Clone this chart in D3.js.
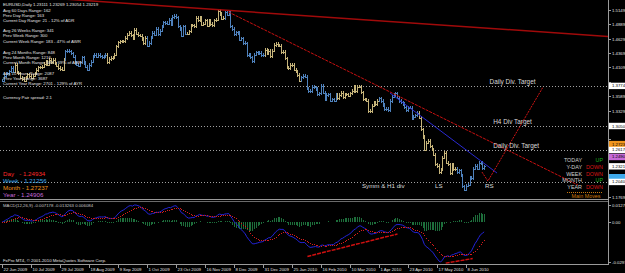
<!DOCTYPE html>
<html>
<head>
<meta charset="utf-8">
<title>EURUSD,Daily</title>
<script src="https://cdn.jsdelivr.net/npm/d3@7"></script>
<style>
  html, body { margin: 0; padding: 0; background: #000; overflow: hidden; }
  svg { display: block; font-family: "Liberation Sans", Arial, sans-serif; }
</style>
</head>
<body>
<svg id="chart" width="625" height="273"></svg>
<script>
// daily closes, one value per bar (22 Jun 2009 .. 22 Jun 2010)
var closes = [
  1.3870, 1.3950, 1.4000, 1.4000, 1.4040, 1.4100, 1.4030, 1.4150, 1.4010, 1.4000, 1.3920, 1.3900, 1.3870, 1.3920, 1.3980, 1.3950,
  1.3920, 1.3960, 1.4000, 1.4060, 1.4110, 1.4110, 1.4120, 1.4170, 1.4220, 1.4160, 1.4240, 1.4200, 1.4240, 1.4180, 1.4140, 1.4100,
  1.4080, 1.4070, 1.4250, 1.4400, 1.4410, 1.4400, 1.4360, 1.4300, 1.4190, 1.4160, 1.4140, 1.4200, 1.4290, 1.4190, 1.4120, 1.4070,
  1.4150, 1.4210, 1.4310, 1.4330, 1.4300, 1.4330, 1.4310, 1.4290, 1.4300, 1.4340, 1.4200, 1.4260, 1.4280, 1.4290, 1.4340, 1.4490,
  1.4560, 1.4580, 1.4570, 1.4580, 1.4640, 1.4700, 1.4730, 1.4690, 1.4630, 1.4790, 1.4720, 1.4690, 1.4680, 1.4620, 1.4540, 1.4640,
  1.4500, 1.4550, 1.4650, 1.4730, 1.4700, 1.4800, 1.4710, 1.4770, 1.4850, 1.4920, 1.4910, 1.4900, 1.4970, 1.4890, 1.5020, 1.5040,
  1.5010, 1.4850, 1.4800, 1.4680, 1.4850, 1.4720, 1.4720, 1.4760, 1.4860, 1.4870, 1.4850, 1.5000, 1.4960, 1.5010, 1.4880, 1.4900,
  1.4960, 1.4860, 1.4950, 1.4890, 1.4870, 1.4960, 1.4970, 1.5130, 1.5070, 1.4990, 1.5000, 1.5100, 1.5060, 1.5100, 1.4850, 1.4800,
  1.4710, 1.4740, 1.4730, 1.4610, 1.4630, 1.4550, 1.4540, 1.4330, 1.4340, 1.4290, 1.4220, 1.4340, 1.4380, 1.4370, 1.4370, 1.4330,
  1.4330, 1.4420, 1.4370, 1.4410, 1.4310, 1.4410, 1.4510, 1.4530, 1.4500, 1.4500, 1.4380, 1.4390, 1.4270, 1.4110, 1.4090, 1.4150,
  1.4150, 1.4070, 1.4030, 1.3970, 1.3870, 1.3930, 1.3960, 1.3940, 1.3730, 1.3680, 1.3680, 1.3760, 1.3750, 1.3720, 1.3630, 1.3640,
  1.3770, 1.3650, 1.3530, 1.3610, 1.3620, 1.3510, 1.3530, 1.3510, 1.3620, 1.3550, 1.3610, 1.3650, 1.3570, 1.3620, 1.3620, 1.3600,
  1.3640, 1.3680, 1.3760, 1.3680, 1.3760, 1.3760, 1.3660, 1.3530, 1.3530, 1.3510, 1.3320, 1.3320, 1.3420, 1.3480, 1.3440, 1.3510,
  1.3550, 1.3500, 1.3430, 1.3350, 1.3360, 1.3340, 1.3500, 1.3580, 1.3610, 1.3640, 1.3560, 1.3500, 1.3480, 1.3450, 1.3390, 1.3330,
  1.3380, 1.3380, 1.3180, 1.3220, 1.3240, 1.3290, 1.3200, 1.2990, 1.2850, 1.2620, 1.2750, 1.2780, 1.2680, 1.2630, 1.2530, 1.2360,
  1.2330, 1.2220, 1.2260, 1.2480, 1.2570, 1.2390, 1.2360, 1.2200, 1.2360, 1.2270, 1.2280, 1.2220, 1.2250, 1.2160, 1.1960, 1.1900,
  1.1970, 1.1990, 1.2110, 1.2110, 1.2280, 1.2330, 1.2280, 1.2380, 1.2390, 1.2290, 1.23219
];

// first bar of each month and its month number (bars alternate colour by month)
var monthStartIndex = [0, 7, 35, 58, 80, 102, 123, 145, 165, 185, 208, 230, 251];
var monthNumber = [6, 7, 8, 9, 10, 11, 12, 1, 2, 3, 4, 5, 6];

var dateTickIndex = [0, 16, 32, 48, 64, 80, 96, 112, 128, 144, 160, 176, 192, 208, 224, 240, 256];
var dateTickLabels = ["22 Jun 2009", "10 Jul 2009", "29 Jul 2009", "18 Aug 2009", "9 Sep 2009", "1 Oct 2009",
  "23 Oct 2009", "16 Nov 2009", "8 Dec 2009", "31 Dec 2009", "25 Jan 2010", "16 Feb 2010", "10 Mar 2010",
  "1 Apr 2010", "23 Apr 2010", "17 May 2010", "8 Jun 2010"];

var priceTicks = [1.51490, 1.48890, 1.46290, 1.43690, 1.41090, 1.38490, 1.35890, 1.33290,
  1.30690, 1.28090, 1.25490, 1.22890, 1.20290, 1.17690];

// dotted target levels
var levelPrices = [1.37740, 1.30500, 1.26170, 1.20400];
var levelNames = ["Daily Div. Target", "H4 Div Target", "Daily Div. Target", ""];
var levelLabelIndex = [269, 271, 271, 0];

// period opens
var periodNames = ["Day   - ", "Week - ", "Month - ", "Year - "];
var periodPrices = [1.24934, 1.21256, 1.27237, 1.24906];
var periodColors = ["#ff2a2a", "#3fa9ea", "#f0961e", "#c66ad8"];

var lastBar = [1.23111, 1.23269, 1.23054, 1.23219];

var moveNames = ["TODAY", "Y-DAY", "WEEK", "MONTH", "YEAR"];
var moveDirs = ["UP", "DOWN", "DOWN", "UP", "DOWN"];

var infoLines = [
  ["Avg 60 Days Range: 162", "Prev Day Range: 163", "Current Day Range: 21 - 12% of ADR"],
  ["Avg 26 Weeks Range: 341", "Prev Week Range: 300", "Current Week Range: 183 - 47% of AWR"],
  ["Avg 24 Months Range: 848", "Prev Month Range: 1216", "Current Month Range: 582 - 69% of AMR"],
  ["Avg 10 Years Range: 2087", "Prev Year Range: 3687", "Current Year Range: 2701 - 129% of AYR"]
];

// trend lines, [bar index, price]
var trendLong = [[81.7, 1.5235], [334.3, 1.4666]];
var trendTop = [[125, 1.5108], [317.8, 1.1984]];
var trendBlue = [[214.1, 1.3645], [273.1, 1.2201]];
var projection = [[264.8, 1.2219], [268.1, 1.2056], [298.5, 1.3754]];
var notes = [["Symm & H1 div", 198.6, 1.1935], ["LS", 238.9, 1.1935], ["RS", 266.5, 1.1935]];

// macd divergence lines, [bar index, value]
var macdDiv1 = [[168.5, -0.0255], [218.2, -0.0088]];
var macdDiv2 = [[244.8, -0.0305], [259.7, -0.0271]];

var W = 625, H = 273, axisX = 608, mainBottom = 199, macdTop = 205, macdBottom = 262;
var small = 4.3;

var svg = d3.select("#chart");

var x = d3.scaleLinear().domain([0, 16]).range([2, 31]);
var y = d3.scaleLinear().domain([1.1732, 1.5325]).range([mainBottom, 0]);

function px(v) { return Math.round(v) + 0.5; }

var defs = svg.append("defs");
defs.append("clipPath").attr("id", "clipMain").append("rect")
  .attr("x", 0).attr("y", 0).attr("width", axisX).attr("height", mainBottom);
defs.append("clipPath").attr("id", "clipMacd").append("rect")
  .attr("x", 0).attr("y", 202).attr("width", axisX).attr("height", 62);

svg.append("rect").attr("width", W).attr("height", H).attr("fill", "#000");

var main = svg.append("g").attr("clip-path", "url(#clipMain)");

// levels
main.selectAll("line.level")
  .data(levelPrices)
  .enter().append("line")
    .attr("class", "level")
    .attr("x1", 0).attr("x2", axisX)
    .attr("y1", function(d) { return px(y(d)); })
    .attr("y2", function(d) { return px(y(d)); })
    .attr("stroke", "#a0a0a0")
    .attr("stroke-dasharray", "1,2");

// bars
var wick = 0.003;
function monthOf(i) {
  var m = monthNumber[0];
  monthStartIndex.forEach(function(s, k) { if (i >= s) m = monthNumber[k]; });
  return m;
}
var bars = closes.map(function(c, i) {
  var o = i ? closes[i - 1] : c;
  return { i: i, o: o, c: c, h: Math.max(o, c) + wick, l: Math.min(o, c) - wick, m: monthOf(i) };
});

main.append("g")
  .attr("shape-rendering", "crispEdges")
  .selectAll("path")
  .data(bars)
  .enter().append("path")
    .attr("d", function(d) {
      var bx = px(x(d.i));
      return "M" + bx + "," + y(d.h) + "V" + y(d.l) +
        "M" + (bx - 1) + "," + px(y(d.o)) + "H" + bx +
        "M" + bx + "," + px(y(d.c)) + "H" + (bx + 1);
    })
    .attr("stroke", function(d) { return d.m % 2 ? "#c6b47a" : "#4f82bd"; })
    .attr("stroke-width", 1)
    .attr("fill", "none");

// trend lines
var line = d3.line()
  .x(function(d) { return x(d[0]); })
  .y(function(d) { return y(d[1]); });

function extend(seg, i0, i1) {
  var k = (seg[1][1] - seg[0][1]) / (seg[1][0] - seg[0][0]);
  return [[i0, seg[0][1] + k * (i0 - seg[0][0])], [i1, seg[0][1] + k * (i1 - seg[0][0])]];
}

main.append("path")
  .attr("d", line(extend(trendLong, 0, 340)))
  .attr("stroke", "#a00a0a").attr("stroke-width", 1.5).attr("fill", "none");

main.append("path")
  .attr("d", line(trendTop))
  .attr("stroke", "#c81010").attr("stroke-width", 1).attr("stroke-dasharray", "3,1").attr("fill", "none");

main.append("path")
  .attr("d", line(trendBlue))
  .attr("stroke", "#2a2ad2").attr("stroke-width", 1).attr("fill", "none");

main.append("path")
  .attr("d", line(projection))
  .attr("stroke", "#d01414").attr("stroke-width", 1).attr("stroke-dasharray", "2,1").attr("fill", "none");

// level labels
main.selectAll("text.level")
  .data(levelPrices.filter(function(d, i) { return levelNames[i]; }))
  .enter().append("text")
    .attr("x", function(d, i) { return x(levelLabelIndex[i]); })
    .attr("y", function(d) { return y(d) - 2; })
    .attr("fill", "#d8d8d8")
    .attr("font-size", 6.4)
    .text(function(d, i) { return levelNames[i]; });

main.selectAll("text.note")
  .data(notes)
  .enter().append("text")
    .attr("x", function(d) { return x(d[1]); })
    .attr("y", function(d) { return y(d[2]); })
    .attr("fill", "#dcdcdc")
    .attr("font-size", 6.2)
    .text(function(d) { return d[0]; });

// info text block
var info = svg.append("g").attr("fill", "#e4e4e4").attr("font-size", small);
info.append("text").attr("x", 3).attr("y", 6.3)
  .text("EURUSD,Daily  " + lastBar.map(function(v) { return v.toFixed(5); }).join(" "));
var groupTop = [11.5, 32, 53.5, 74.5];
infoLines.forEach(function(g, gi) {
  g.forEach(function(t, li) {
    info.append("text").attr("x", 3).attr("y", groupTop[gi] + li * 5.3).text(t);
  });
});
info.append("text").attr("x", 3).attr("y", 98.5).text("Currency Pair spread: 2.1");

// period labels
svg.selectAll("text.period")
  .data(periodPrices)
  .enter().append("text")
    .attr("x", 3)
    .attr("y", function(d, i) { return 176 + i * 7; })
    .attr("fill", function(d, i) { return periodColors[i]; })
    .attr("font-size", 6.2)
    .attr("xml:space", "preserve")
    .text(function(d, i) { return periodNames[i] + d.toFixed(5); });

// main moves panel
var moves = svg.append("g").attr("font-size", 5.4);
moveNames.forEach(function(n, i) {
  var ty = 162 + i * 6.8;
  moves.append("text").attr("x", 582).attr("y", ty).attr("text-anchor", "end")
    .attr("fill", "#cfcfcf").text(n);
  moves.append("text").attr("x", 603).attr("y", ty).attr("text-anchor", "end")
    .attr("fill", moveDirs[i] === "UP" ? "#1fae1f" : "#d81616").text(moveDirs[i]);
});
moves.append("line").attr("x1", 567).attr("x2", 603).attr("y1", 192.5).attr("y2", 192.5)
  .attr("stroke", "#c8780e").attr("stroke-dasharray", "1,1");
moves.append("text").attr("x", 586).attr("y", 198).attr("text-anchor", "middle")
  .attr("fill", "#c8780e").text("Main Moves");

// MACD
function ema(v, n) {
  var k = 2 / (n + 1), p;
  return v.map(function(d, i) { p = i ? d * k + p * (1 - k) : d; return p; });
}
var e12 = ema(closes, 12), e26 = ema(closes, 26);
var macd = closes.map(function(d, i) { return e12[i] - e26[i]; });
var signal = ema(macd, 9);
var hist = macd.map(function(d, i) { return d - signal[i]; });

var my = d3.scaleLinear()
  .domain(d3.extent(macd.concat(signal, hist)))
  .range([macdBottom, macdTop]);

var sub = svg.append("g").attr("clip-path", "url(#clipMacd)");

sub.append("g")
  .attr("shape-rendering", "crispEdges")
  .selectAll("line")
  .data(hist)
  .enter().append("line")
    .attr("x1", function(d, i) { return px(x(i)); })
    .attr("x2", function(d, i) { return px(x(i)); })
    .attr("y1", my(0))
    .attr("y2", function(d) { return my(d); })
    .attr("stroke", "#1d6e3b");

sub.append("path")
  .attr("d", d3.line().x(function(d, i) { return x(i); }).y(function(d) { return my(d); })(macd))
  .attr("stroke", "#2323d8").attr("stroke-width", 1).attr("fill", "none");

sub.append("g")
  .selectAll("rect")
  .data(signal)
  .enter().append("rect")
    .attr("x", function(d, i) { return Math.round(x(i)); })
    .attr("y", function(d) { return Math.round(my(d)); })
    .attr("width", 1).attr("height", 1)
    .attr("fill", "#d41c1c");

var mline = d3.line()
  .x(function(d) { return x(d[0]); })
  .y(function(d) { return my(d[1]); });
[macdDiv1, macdDiv2].forEach(function(seg) {
  sub.append("path").attr("d", mline(seg))
    .attr("stroke", "#d01010").attr("stroke-width", 1.5).attr("stroke-dasharray", "4,1").attr("fill", "none");
});

svg.append("text").attr("x", 3).attr("y", 206.5).attr("fill", "#c8c8c8").attr("font-size", small)
  .text("MACD(12,26,9) -0.007178 -0.013263 0.006084");
svg.append("text").attr("x", 3).attr("y", 261.5).attr("fill", "#e0e0e0").attr("font-size", small)
  .text("FxPro MT4, \u00a9 2001-2010 MetaQuotes Software Corp.");

// frame
var frame = svg.append("g").attr("stroke", "#9a9a9a").attr("shape-rendering", "crispEdges");
frame.append("line").attr("x1", 0).attr("x2", axisX).attr("y1", 199.5).attr("y2", 199.5);
frame.append("line").attr("x1", 0).attr("x2", axisX).attr("y1", 201.5).attr("y2", 201.5).attr("stroke", "#6a6a6a");
frame.append("line").attr("x1", 0).attr("x2", axisX).attr("y1", 264.5).attr("y2", 264.5);
frame.append("line").attr("x1", axisX + 0.5).attr("x2", axisX + 0.5).attr("y1", 0).attr("y2", 265);

// price axis; labels hidden where a marker box sits on top of them
var boxes = [
  [levelPrices[0], "#ffffff", true],
  [levelPrices[1], "#ffffff", true],
  [periodPrices[2], periodColors[2], true],
  [levelPrices[2], "#ffffff", true],
  [periodPrices[3], periodColors[3], true],
  [lastBar[3], "#ffffff", true],
  [periodPrices[1], periodColors[1], false],
  [levelPrices[3], "#ffffff", true]
];

var yAxis = svg.append("g").attr("font-size", small).attr("fill", "#e0e0e0");
priceTicks.forEach(function(p) {
  var ty = px(y(p));
  yAxis.append("line").attr("x1", axisX).attr("x2", axisX + 3).attr("y1", ty).attr("y2", ty)
    .attr("stroke", "#9a9a9a");
  var covered = boxes.some(function(b) { return Math.abs(y(b[0]) - ty) < 6; });
  if (!covered) {
    yAxis.append("text").attr("x", axisX + 4).attr("y", ty).attr("dy", "0.35em").text(p.toFixed(5));
  }
});

boxes.forEach(function(b) {
  var ty = y(b[0]);
  yAxis.append("rect").attr("x", axisX + 1).attr("y", ty - 3.2).attr("width", W - axisX).attr("height", 6.4)
    .attr("fill", b[1]);
  if (b[2]) {
    yAxis.append("text").attr("x", axisX + 4).attr("y", ty).attr("dy", "0.35em").attr("fill", "#000")
      .text(b[0].toFixed(5));
  }
});

// macd axis
var md = my.domain();
[[md[1], md[1].toFixed(5)], [0, "0.00"], [md[0], md[0].toFixed(4)]].forEach(function(t) {
  var ty = px(my(t[0]));
  yAxis.append("line").attr("x1", axisX).attr("x2", axisX + 3).attr("y1", ty).attr("y2", ty)
    .attr("stroke", "#9a9a9a");
  yAxis.append("text").attr("x", axisX + 4).attr("y", ty).attr("dy", "0.35em").text(t[1]);
});

// time axis
var xAxis = svg.append("g").attr("font-size", small).attr("fill", "#e0e0e0");
dateTickIndex.forEach(function(idx, i) {
  var tx = px(x(idx));
  xAxis.append("line").attr("x1", tx).attr("x2", tx).attr("y1", 265).attr("y2", 268)
    .attr("stroke", "#9a9a9a");
  xAxis.append("text").attr("x", tx + 1).attr("y", 271).text(dateTickLabels[i]);
});
</script>
</body>
</html>
